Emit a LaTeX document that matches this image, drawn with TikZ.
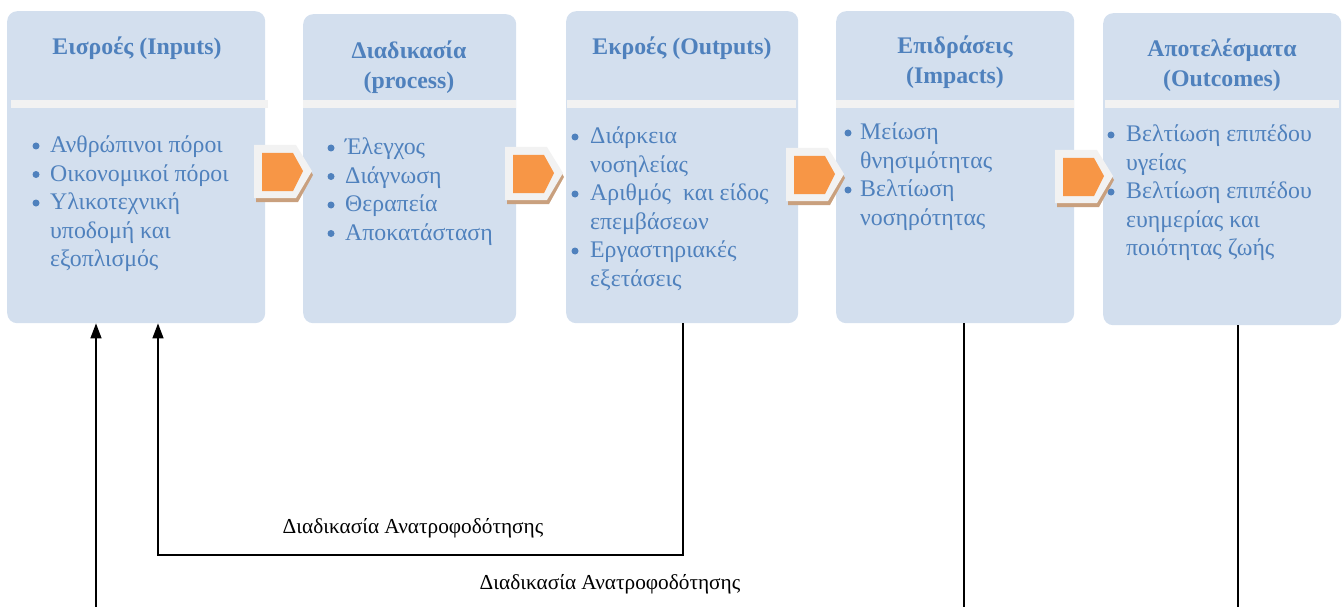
\documentclass[tikz,border=0pt]{standalone}
\usepackage{fontspec}
\setmainfont{Liberation Serif}
\usetikzlibrary{arrows.meta}
\definecolor{boxfill}{HTML}{D3DFEE}
\definecolor{txtblue}{HTML}{4F81BD}
\definecolor{band}{HTML}{F2F2F2}
\definecolor{chevorange}{HTML}{F79646}
\definecolor{chevshadow}{HTML}{C9A07E}
\newenvironment{blist}{\fontsize{23.8}{28.5}\selectfont\begin{tabular}[t]{@{}l@{}}}{\end{tabular}}
\tikzset{
  stage/.style={fill=boxfill, rounded corners=10pt, inner sep=0pt, anchor=north west},
  head/.style={text=txtblue, font=\bfseries\fontsize{23.8}{30}\selectfont, align=center, inner sep=0pt},
  items/.style={text=txtblue, inner sep=0pt, anchor=base west},
  dot/.style={fill=txtblue},
  fb/.style={line width=1.5pt},
  fbarrow/.style={fb, -{Triangle[length=15pt,width=11pt]}},
  fblabel/.style={font=\fontsize{21.3}{21.3}\selectfont, inner sep=0pt},
  pics/chevron/.style={code={
    \fill[chevshadow] (2,5) -- (44,5) -- (59,30) -- (44,57) -- (2,57) -- cycle;
    \fill[band] (0,0) -- (42,0) -- (58,26) -- (42,53) -- (0,53) -- cycle;
    \fill[chevorange] (8,8) -- (39,8) -- (49,26) -- (39,46) -- (8,46) -- cycle;
  }}
}
\begin{document}
\begin{tikzpicture}[x=1pt, y=-1pt]
\useasboundingbox (0,0) rectangle (1344,607);

% stage boxes
\node[stage, minimum width=258pt, minimum height=312pt] (b1) at (7,11) {};
\node[stage, minimum width=213pt, minimum height=309pt] (b2) at (303,14) {};
\node[stage, minimum width=232pt, minimum height=312pt] (b3) at (566,11) {};
\node[stage, minimum width=238pt, minimum height=312pt] (b4) at (836,11) {};
\node[stage, minimum width=238pt, minimum height=312pt] (b5) at (1103,13) {};

% dividing bands under the headings
\fill[band] (11,100) rectangle (268,108);
\fill[band] (303,100) rectangle (516,108);
\fill[band] (567,100) rectangle (796,108);
\fill[band] (836,100) rectangle (1074,108);
\fill[band] (1105,100) rectangle (1339,108);

% headings
\node[head] (h1) at (137,48) {Εισροές (Inputs)};
\node[head] (h2) at (409,67.5) {Διαδικασία\\(process)};
\node[head] (h3) at (682,48) {Εκροές (Outputs)};
\node[head] (h4) at (955,62.5) {Επιδράσεις\\(Impacts)};
\node[head] (h5) at (1222,65) {Αποτελέσματα\\(Outcomes)};

% item lists
\node[items] (l1) at (50,153) {\begin{blist}
Ανθρώπινοι πόροι\\
Οικονομικοί πόροι\\
Υλικοτεχνική\\
υποδομή και\\
εξοπλισμός
\end{blist}};
\node[items] (l2) at (345,155) {\begin{blist}
Έλεγχος\\
Διάγνωση\\
Θεραπεία\\
Αποκατάσταση
\end{blist}};
\node[items] (l3) at (590,144) {\begin{blist}
Διάρκεια\\
νοσηλείας\\
Αριθμός\ \ και είδος\\
επεμβάσεων\\
Εργαστηριακές\\
εξετάσεις
\end{blist}};
\node[items] (l4) at (860,140) {\begin{blist}
Μείωση\\
θνησιμότητας\\
Βελτίωση\\
νοσηρότητας
\end{blist}};
\node[items] (l5) at (1126,142) {\begin{blist}
Βελτίωση επιπέδου\\
υγείας\\
Βελτίωση επιπέδου\\
ευημερίας και\\
ποιότητας ζωής
\end{blist}};

% list bullets
\foreach \x/\y in {36/146, 36/174.5, 36/203,
                   331/148, 331/176.5, 331/205, 331/233.5,
                   575/137, 575/194, 575/251,
                   848/133, 848/190,
                   1111/135, 1111/192}
  \fill[dot] (\x,\y) circle (3.5pt);

% chevrons between the stages
\pic at (254,145) {chevron};
\pic at (505,147) {chevron};
\pic at (786,148) {chevron};
\pic at (1055,150) {chevron};

% feedback connectors
\coordinate (in1) at (96,607);
\coordinate (c2) at (158,555);
\coordinate (c3) at (683,555);
\coordinate (d4) at (964,607);
\coordinate (d5) at (1238,607);
\draw[fbarrow] (in1) -- (b1.south -| in1);
\draw[fbarrow] (b3.south -| c3) -- (c3) -- (c2) -- (b1.south -| c2);
\draw[fb] (b4.south -| d4) -- (d4);
\draw[fb] (b5.south -| d5) -- (d5);

\node[fblabel] (t1) at (413,528) {Διαδικασία Ανατροφοδότησης};
\node[fblabel] (t2) at (610,584) {Διαδικασία Ανατροφοδότησης};
\end{tikzpicture}
\end{document}
